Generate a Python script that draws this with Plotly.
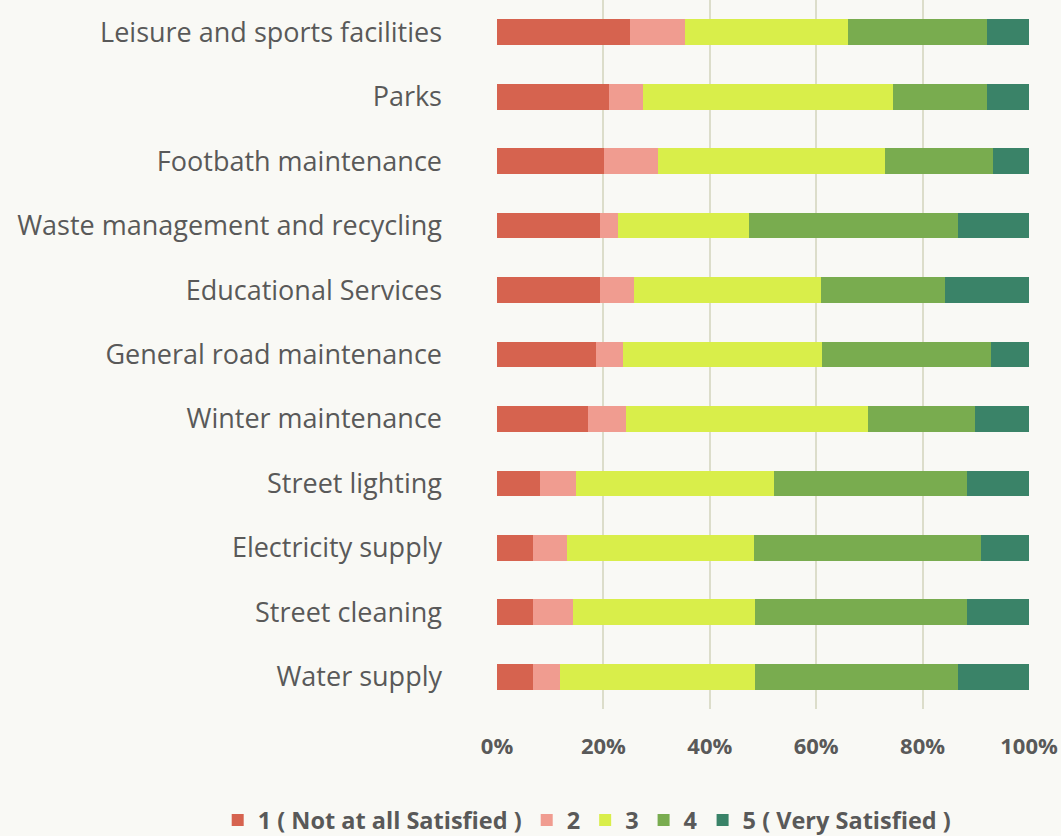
import plotly.graph_objects as go

# Services, listed top to bottom
services = [
    "Leisure and sports facilities",
    "Parks",
    "Footbath maintenance",
    "Waste management and recycling",
    "Educational Services",
    "General road maintenance",
    "Winter maintenance",
    "Street lighting",
    "Electricity supply",
    "Street cleaning",
    "Water supply",
]

# Share of respondents (%) for each satisfaction level
level_1 = [25.1, 21.1, 20.1, 19.3, 19.3, 18.7, 17.1, 8.1, 6.8, 6.8, 6.8]
level_2 = [10.3, 6.4, 10.1, 3.4, 6.4, 4.9, 7.2, 6.8, 6.4, 7.5, 5.1]
level_3 = [30.7, 46.9, 42.7, 24.7, 35.2, 37.4, 45.3, 37.1, 35.2, 34.1, 36.5]
level_4 = [26.1, 17.7, 20.4, 39.3, 23.4, 31.9, 20.1, 36.4, 42.6, 39.9, 38.1]
level_5 = [7.9, 7.9, 6.7, 13.4, 15.7, 7.1, 10.2, 11.6, 9.0, 11.6, 13.4]

level_names = ["1 ( Not at all Satisfied )", "2", "3", "4", "5 ( Very Satisfied )"]
level_colors = ["#D6634F", "#F09C90", "#D9EE4A", "#79AC4F", "#3A8368"]
tick_vals = [0, 20, 40, 60, 80, 100]
tick_text = ["0%", "20%", "40%", "60%", "80%", "100%"]

fig = go.Figure()
for name, vals, color in zip(level_names, [level_1, level_2, level_3, level_4, level_5], level_colors):
    fig.add_trace(go.Bar(
        y=services,
        x=vals,
        name=name,
        orientation="h",
        marker=dict(color=color, line=dict(width=0)),
    ))

bg = "#F9F9F5"
fig.update_layout(
    barmode="stack",
    barnorm="percent",
    bargap=0.6,
    width=1061,
    height=836,
    paper_bgcolor=bg,
    plot_bgcolor=bg,
    margin=dict(l=497, r=32, t=0, b=127, autoexpand=False),
    font=dict(family="Open Sans", color="#595959"),
    legend=dict(
        orientation="h",
        x=-0.525,
        xanchor="left",
        y=-0.157,
        yanchor="middle",
        font=dict(size=23.5, weight="bold", color="#595959"),
        traceorder="normal",
        bgcolor="rgba(0,0,0,0)",
    ),
    xaxis=dict(
        range=[0, 100],
        tickvals=tick_vals,
        ticktext=tick_text,
        showgrid=True,
        gridcolor="#DCDDCA",
        gridwidth=1.5,
        zeroline=False,
        showline=False,
        tickfont=dict(size=22, weight="bold", color="#595959"),
        ticklabelstandoff=22,
        fixedrange=True,
    ),
    yaxis=dict(
        categoryorder="array",
        categoryarray=services[::-1],
        showgrid=False,
        zeroline=False,
        tickfont=dict(size=27, color="#595959"),
        ticklabelstandoff=54,
        fixedrange=True,
    ),
)

fig.write_html("out.html")
